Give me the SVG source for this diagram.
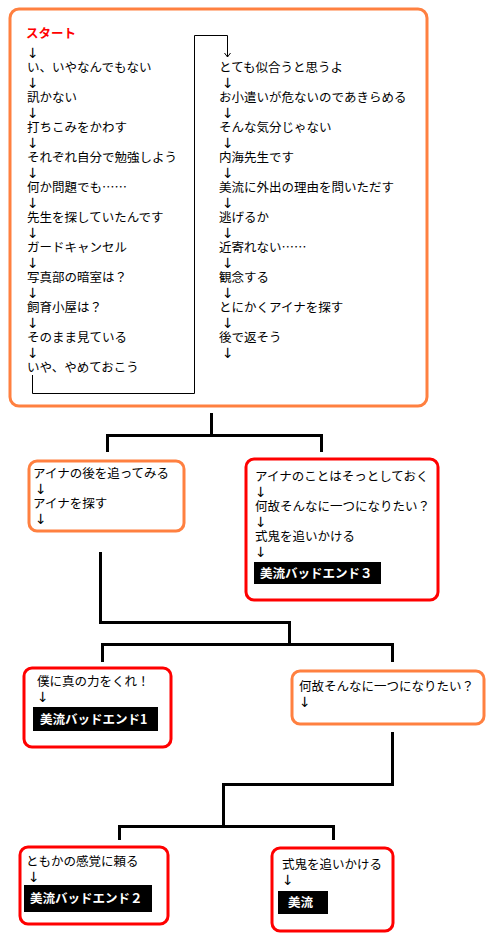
<svg xmlns="http://www.w3.org/2000/svg" width="493" height="944" viewBox="0 0 493 944">
<style>
text{font-family:"Noto Sans CJK JP","Noto Sans",sans-serif;font-size:12.5px;fill:#000}
text.a{font-family:"DejaVu Sans",sans-serif;font-size:14px;fill:#000}
.st{fill:#ff0000;font-weight:bold}
.end{fill:#fff;font-weight:bold}
.ob{fill:#fff;stroke:#ff8040;stroke-width:3}
.rb{fill:#fff;stroke:#ff0000;stroke-width:3}
.ln{fill:none;stroke:#000;stroke-width:3}
.tl{fill:none;stroke:#000;stroke-width:1}
</style>
<rect width="493" height="944" fill="#fff"/>
<g id="start">
<rect class="ob" x="10" y="9" width="417" height="397" rx="9"/>
<text class="st" x="26" y="38">スタート</text>
<text class="a" x="27" y="58">↓</text>
<text x="27" y="72">い、いやなんでもない</text>
<text class="a" x="27" y="88">↓</text>
<text x="27" y="102">訊かない</text>
<text class="a" x="27" y="118">↓</text>
<text x="27" y="132">打ちこみをかわす</text>
<text class="a" x="27" y="148">↓</text>
<text x="27" y="162">それぞれ自分で勉強しよう</text>
<text class="a" x="27" y="178">↓</text>
<text x="27" y="192">何か問題でも……</text>
<text class="a" x="27" y="208">↓</text>
<text x="27" y="222">先生を探していたんです</text>
<text class="a" x="27" y="238">↓</text>
<text x="27" y="252">ガードキャンセル</text>
<text class="a" x="27" y="268">↓</text>
<text x="27" y="282">写真部の暗室は？</text>
<text class="a" x="27" y="298">↓</text>
<text x="27" y="312">飼育小屋は？</text>
<text class="a" x="27" y="328">↓</text>
<text x="27" y="342">そのまま見ている</text>
<text class="a" x="27" y="358">↓</text>
<text x="27" y="372">いや、やめておこう</text>
<path class="tl" d="M32.5,375 V393.5 H194.5 V35.5 H227.5 V57 M224.5,53 L227.5,57 L230.5,53"/>
<text x="219" y="72">とても似合うと思うよ</text>
<text class="a" x="222" y="88">↓</text>
<text x="219" y="102">お小遣いが危ないのであきらめる</text>
<text class="a" x="222" y="118">↓</text>
<text x="219" y="132">そんな気分じゃない</text>
<text class="a" x="222" y="148">↓</text>
<text x="219" y="162">内海先生です</text>
<text class="a" x="222" y="178">↓</text>
<text x="219" y="192">美流に外出の理由を問いただす</text>
<text class="a" x="222" y="208">↓</text>
<text x="219" y="222">逃げるか</text>
<text class="a" x="222" y="238">↓</text>
<text x="219" y="252">近寄れない……</text>
<text class="a" x="222" y="268">↓</text>
<text x="219" y="282">観念する</text>
<text class="a" x="222" y="298">↓</text>
<text x="219" y="312">とにかくアイナを探す</text>
<text class="a" x="222" y="328">↓</text>
<text x="219" y="342">後で返そう</text>
<text class="a" x="222" y="358">↓</text>
</g>
<g id="connectors">
<path class="ln" d="M211.5,413 V435.5 M107.5,452 V435.5 H321.5 V452"/>
<path class="ln" d="M100.5,552 V622.5 H289.5 V644.5 M102.5,662 V644.5 H392.5 V662"/>
<path class="ln" d="M392.5,732 V784.5 H223.5 V826.5 M119.5,840 V826.5 H333.5 V840"/>
</g>
<g id="n-follow">
<rect class="ob" x="29" y="461" width="155" height="70" rx="8"/>
<text x="33" y="478">アイナの後を追ってみる</text>
<text class="a" x="35" y="494">↓</text>
<text x="33" y="508">アイナを探す</text>
<text class="a" x="35" y="524">↓</text>
</g>
<g id="n-bad3">
<rect class="rb" x="246" y="459" width="192" height="141" rx="8"/>
<text x="255" y="481">アイナのことはそっとしておく</text>
<text class="a" x="255" y="497">↓</text>
<text x="255" y="511">何故そんなに一つになりたい？</text>
<text class="a" x="255" y="527">↓</text>
<text x="255" y="541">式鬼を追いかける</text>
<text class="a" x="255" y="557">↓</text>
<rect x="254" y="562" width="127" height="22" fill="#000"/>
<text class="end" x="260" y="578">美流バッドエンド３</text>
</g>
<g id="n-bad1">
<rect class="rb" x="24" y="668" width="147" height="79" rx="8"/>
<text x="37" y="686">僕に真の力をくれ！</text>
<text class="a" x="37" y="702">↓</text>
<rect x="33" y="707" width="125" height="24" fill="#000"/>
<text class="end" x="40" y="724">美流バッドエンド1</text>
</g>
<g id="n-why">
<rect class="ob" x="292" y="671" width="192" height="53" rx="8"/>
<text x="299" y="691">何故そんなに一つになりたい？</text>
<text class="a" x="299" y="707">↓</text>
</g>
<g id="n-bad2">
<rect class="rb" x="20" y="847" width="148" height="77" rx="8"/>
<text x="26" y="866">ともかの感覚に頼る</text>
<text class="a" x="28" y="882">↓</text>
<rect x="24" y="885" width="128" height="27" fill="#000"/>
<text class="end" x="30" y="903">美流バッドエンド２</text>
</g>
<g id="n-miru">
<rect class="rb" x="272" y="848" width="121" height="83" rx="8"/>
<text x="282" y="869">式鬼を追いかける</text>
<text class="a" x="282" y="885">↓</text>
<rect x="278" y="891" width="50" height="23" fill="#000"/>
<text class="end" x="288" y="907">美流</text>
</g>
</svg>
